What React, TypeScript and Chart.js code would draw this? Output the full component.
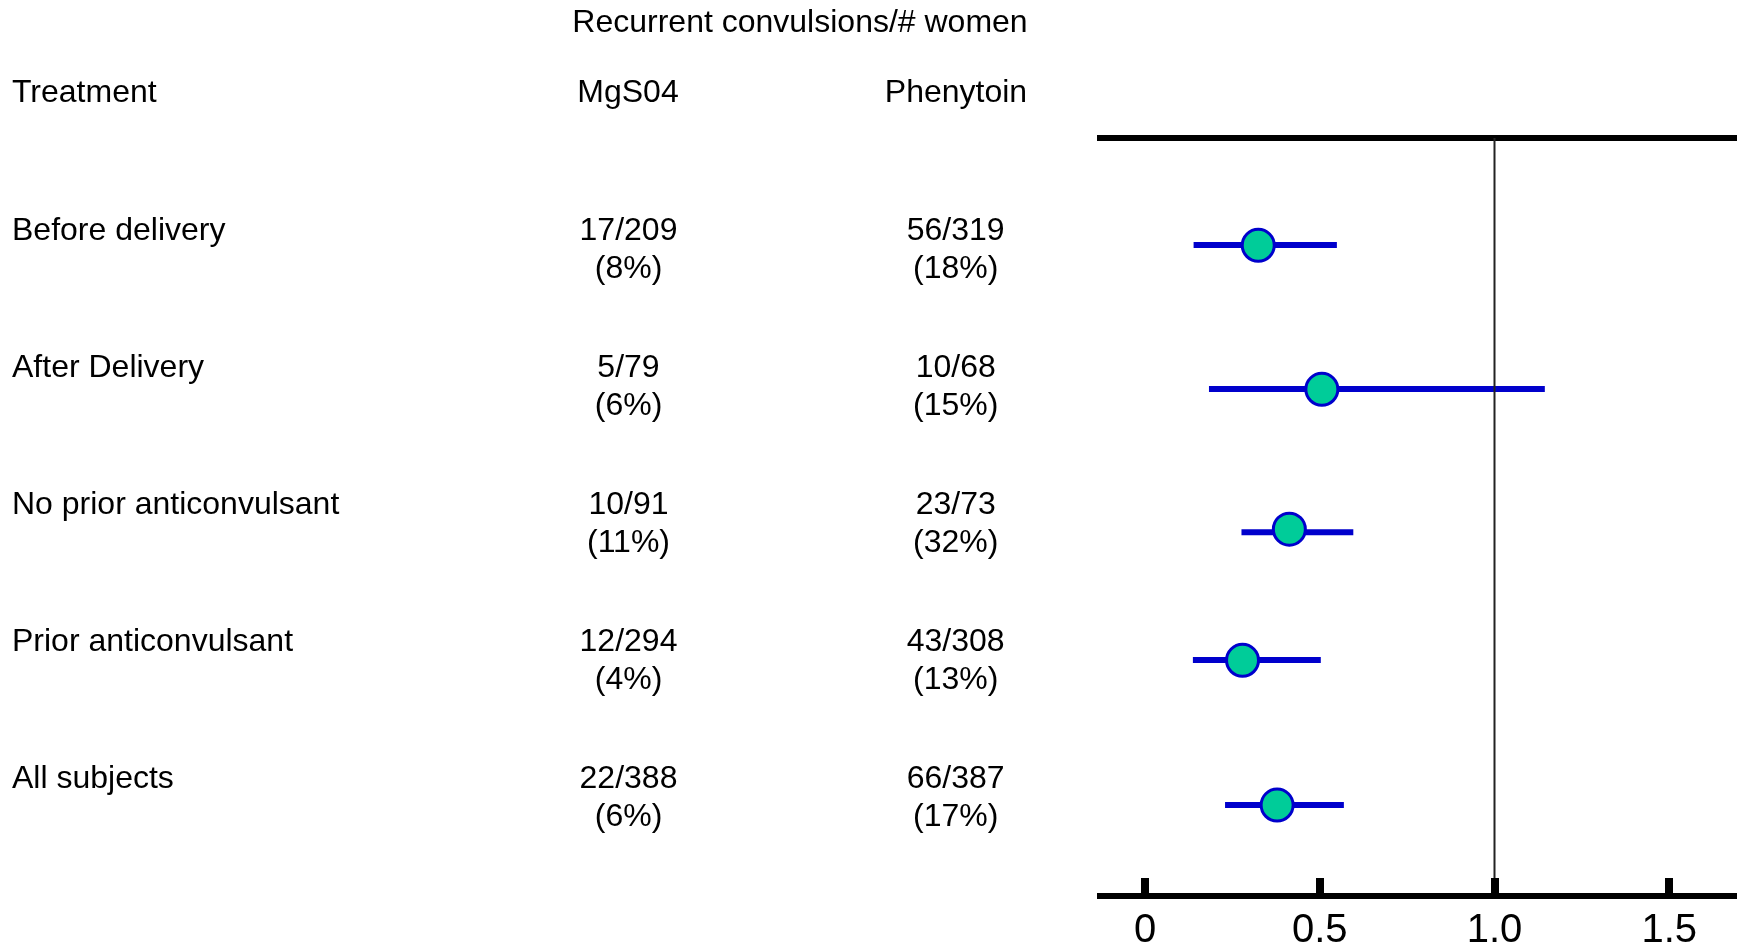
import React, { useEffect, useRef } from "react";
import { Chart, registerables } from "chart.js";

Chart.register(...registerables);

// ---------- data ----------
const rowLabels = [
  "Before delivery",
  "After Delivery",
  "No prior anticonvulsant",
  "Prior anticonvulsant",
  "All subjects",
];
const mgCounts = ["17/209", "5/79", "10/91", "12/294", "22/388"];
const mgPercents = ["(8%)", "(6%)", "(11%)", "(4%)", "(6%)"];
const phCounts = ["56/319", "10/68", "23/73", "43/308", "66/387"];
const phPercents = ["(18%)", "(15%)", "(32%)", "(13%)", "(17%)"];

const estimates = [0.324, 0.506, 0.413, 0.279, 0.378];
const ciLower = [0.139, 0.183, 0.276, 0.137, 0.229];
const ciUpper = [0.549, 1.144, 0.596, 0.503, 0.569];
// vertical position of each row on the hidden row axis (0 = top, 100 = bottom)
const pointRows = [14.15, 33.15, 51.6, 68.9, 88.0];
const ciRows = [14.1, 33.1, 52.0, 68.85, 88.0];

const xTicks = [0, 0.5, 1.0, 1.5];
const xMin = -0.1288;
const xMax = 1.691;
const referenceValue = 1.0;

const titleText = "Recurrent convulsions/# women";
const headerTreatment = "Treatment";
const headerMg = "MgS04";
const headerPh = "Phenytoin";

// ---------- styles ----------
const FONT_FAMILY = '"Liberation Sans", Arial, Helvetica, sans-serif';
const BLUE = "#0000CC";
const GREEN = "#00CC99";

const overlayPlugin = {
  id: "forestOverlay",
  afterDraw(chart: any) {
    const ctx = chart.ctx as CanvasRenderingContext2D;
    const xs = chart.scales.x;
    ctx.save();
    // inward tick marks on bottom axis
    ctx.fillStyle = "#000";
    xTicks.forEach((v) => {
      const px = xs.getPixelForValue(v);
      ctx.fillRect(Math.round(px) - 4, xs.top - 18, 8, 18);
    });

    // table text
    ctx.font = `32px ${FONT_FAMILY}`;
    ctx.textBaseline = "alphabetic";
    ctx.fillStyle = "#000";

    ctx.textAlign = "center";
    ctx.fillText(titleText, 800, 32);

    ctx.textAlign = "left";
    ctx.fillText(headerTreatment, 12, 102);
    ctx.textAlign = "center";
    ctx.fillText(headerMg, 628, 102);
    ctx.fillText(headerPh, 956, 102);

    const base0 = 239.5;
    const step = 137;
    const second = 38.5;
    rowLabels.forEach((lab, i) => {
      const y = base0 + i * step;
      ctx.textAlign = "left";
      ctx.fillText(lab, 12, y);
      ctx.textAlign = "center";
      ctx.fillText(mgCounts[i], 628.5, y);
      ctx.fillText(mgPercents[i], 628.5, y + second);
      ctx.fillText(phCounts[i], 955.7, y);
      ctx.fillText(phPercents[i], 955.7, y + second);
    });
    ctx.restore();
  },
};

export default function App() {
  const canvasRef = useRef<HTMLCanvasElement | null>(null);

  useEffect(() => {
    if (!canvasRef.current) return;

    const ciDatasets = estimates.map((_, i) => ({
      type: "scatter" as const,
      data: [
        { x: ciLower[i], y: ciRows[i] },
        { x: ciUpper[i], y: ciRows[i] },
      ],
      showLine: true,
      borderColor: BLUE,
      borderWidth: 6,
      pointRadius: 0,
      order: 3,
    }));

    const chart = new Chart(canvasRef.current, {
      type: "scatter",
      data: {
        datasets: [
          {
            data: estimates.map((v, i) => ({ x: v, y: pointRows[i] })),
            pointRadius: 16,
            pointBorderWidth: 3,
            pointBackgroundColor: GREEN,
            pointBorderColor: BLUE,
            order: 1,
          } as any,
          {
            data: [
              { x: referenceValue, y: 0 },
              { x: referenceValue, y: 100 },
            ],
            showLine: true,
            borderColor: "#222222",
            borderWidth: 2,
            pointRadius: 0,
            order: 2,
          } as any,
          ...ciDatasets,
        ],
      },
      options: {
        responsive: false,
        maintainAspectRatio: false,
        animation: false,
        devicePixelRatio: 1,
        events: [],
        layout: {
          autoPadding: false,
          padding: { left: 1100, right: 9, top: 138, bottom: -16 },
        },
        plugins: {
          legend: { display: false },
          tooltip: { enabled: false },
          title: { display: false },
        },
        scales: {
          x: {
            type: "linear",
            position: "bottom",
            min: xMin,
            max: xMax,
            afterBuildTicks: (scale: any) => {
              scale.ticks = xTicks.map((v) => ({ value: v }));
            },
            ticks: {
              callback: (v: any) => (Number(v) === 0 ? "0" : Number(v).toFixed(1)),
              font: { family: FONT_FAMILY, size: 40, lineHeight: 1 },
              color: "#000",
              padding: 15,
              maxRotation: 0,
              autoSkip: false,
            },
            grid: { display: true, drawOnChartArea: false, drawTicks: false },
            border: { display: true, width: 6, color: "#000" },
          },
          xTop: {
            type: "linear",
            position: "top",
            min: xMin,
            max: xMax,
            ticks: { display: false },
            grid: { display: true, drawOnChartArea: false, drawTicks: false },
            border: { display: true, width: 6, color: "#000" },
          },
          y: {
            type: "linear",
            display: false,
            reverse: true,
            min: 0,
            max: 100,
          },
        },
      } as any,
      plugins: [overlayPlugin],
    });

    return () => chart.destroy();
  }, []);

  return (
    <div
      style={{
        position: "absolute",
        left: 0,
        top: 0,
        width: 1745,
        height: 950,
        background: "#fff",
      }}
    >
      <canvas ref={canvasRef} width={1745} height={950} style={{ display: "block" }} />
    </div>
  );
}
